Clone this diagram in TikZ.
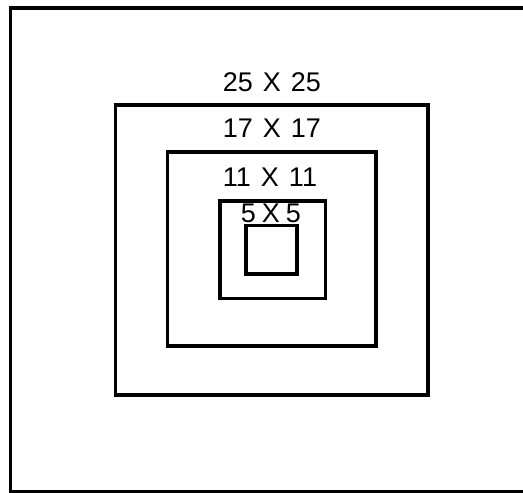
\documentclass[tikz,border=0pt]{standalone}
\usepackage{fontspec}
\setmainfont{Liberation Sans}
\begin{document}
\begin{tikzpicture}[x=1pt,y=-1pt,
  boxline/.style={draw=black,line width=3.8pt},
  framelne/.style={draw=black,line width=3.5pt},
  lbl/.style={inner sep=0pt,font=\fontsize{27}{27}\selectfont}]
\useasboundingbox (0,0) rectangle (523,493);
\begin{scope}
\clip (0,0) rectangle (523,493);
\draw[framelne] (530,8) -- (10.5,8) -- (10.5,491.5) -- (530,491.5);
\end{scope}
\draw[boxline] (115.5,105) rectangle (428,394.7);
\draw[boxline] (167.5,152) rectangle (376,346);
\draw[boxline] (220,201) rectangle (325.5,298.5);
\draw[boxline] (246,225.5) rectangle (297,274);
\node[lbl] (l25) at (272,82) {25\hspace{10pt}X\hspace{10pt}25};
\node[lbl] (l17) at (272,128) {17\hspace{10pt}X\hspace{10pt}17};
\node[lbl] (l11) at (270,177) {11\hspace{10pt}X\hspace{10pt}11};
\node[lbl] (l5) at (271,213) {5\hspace{6pt}X\hspace{6pt}5};
\end{tikzpicture}
\end{document}
